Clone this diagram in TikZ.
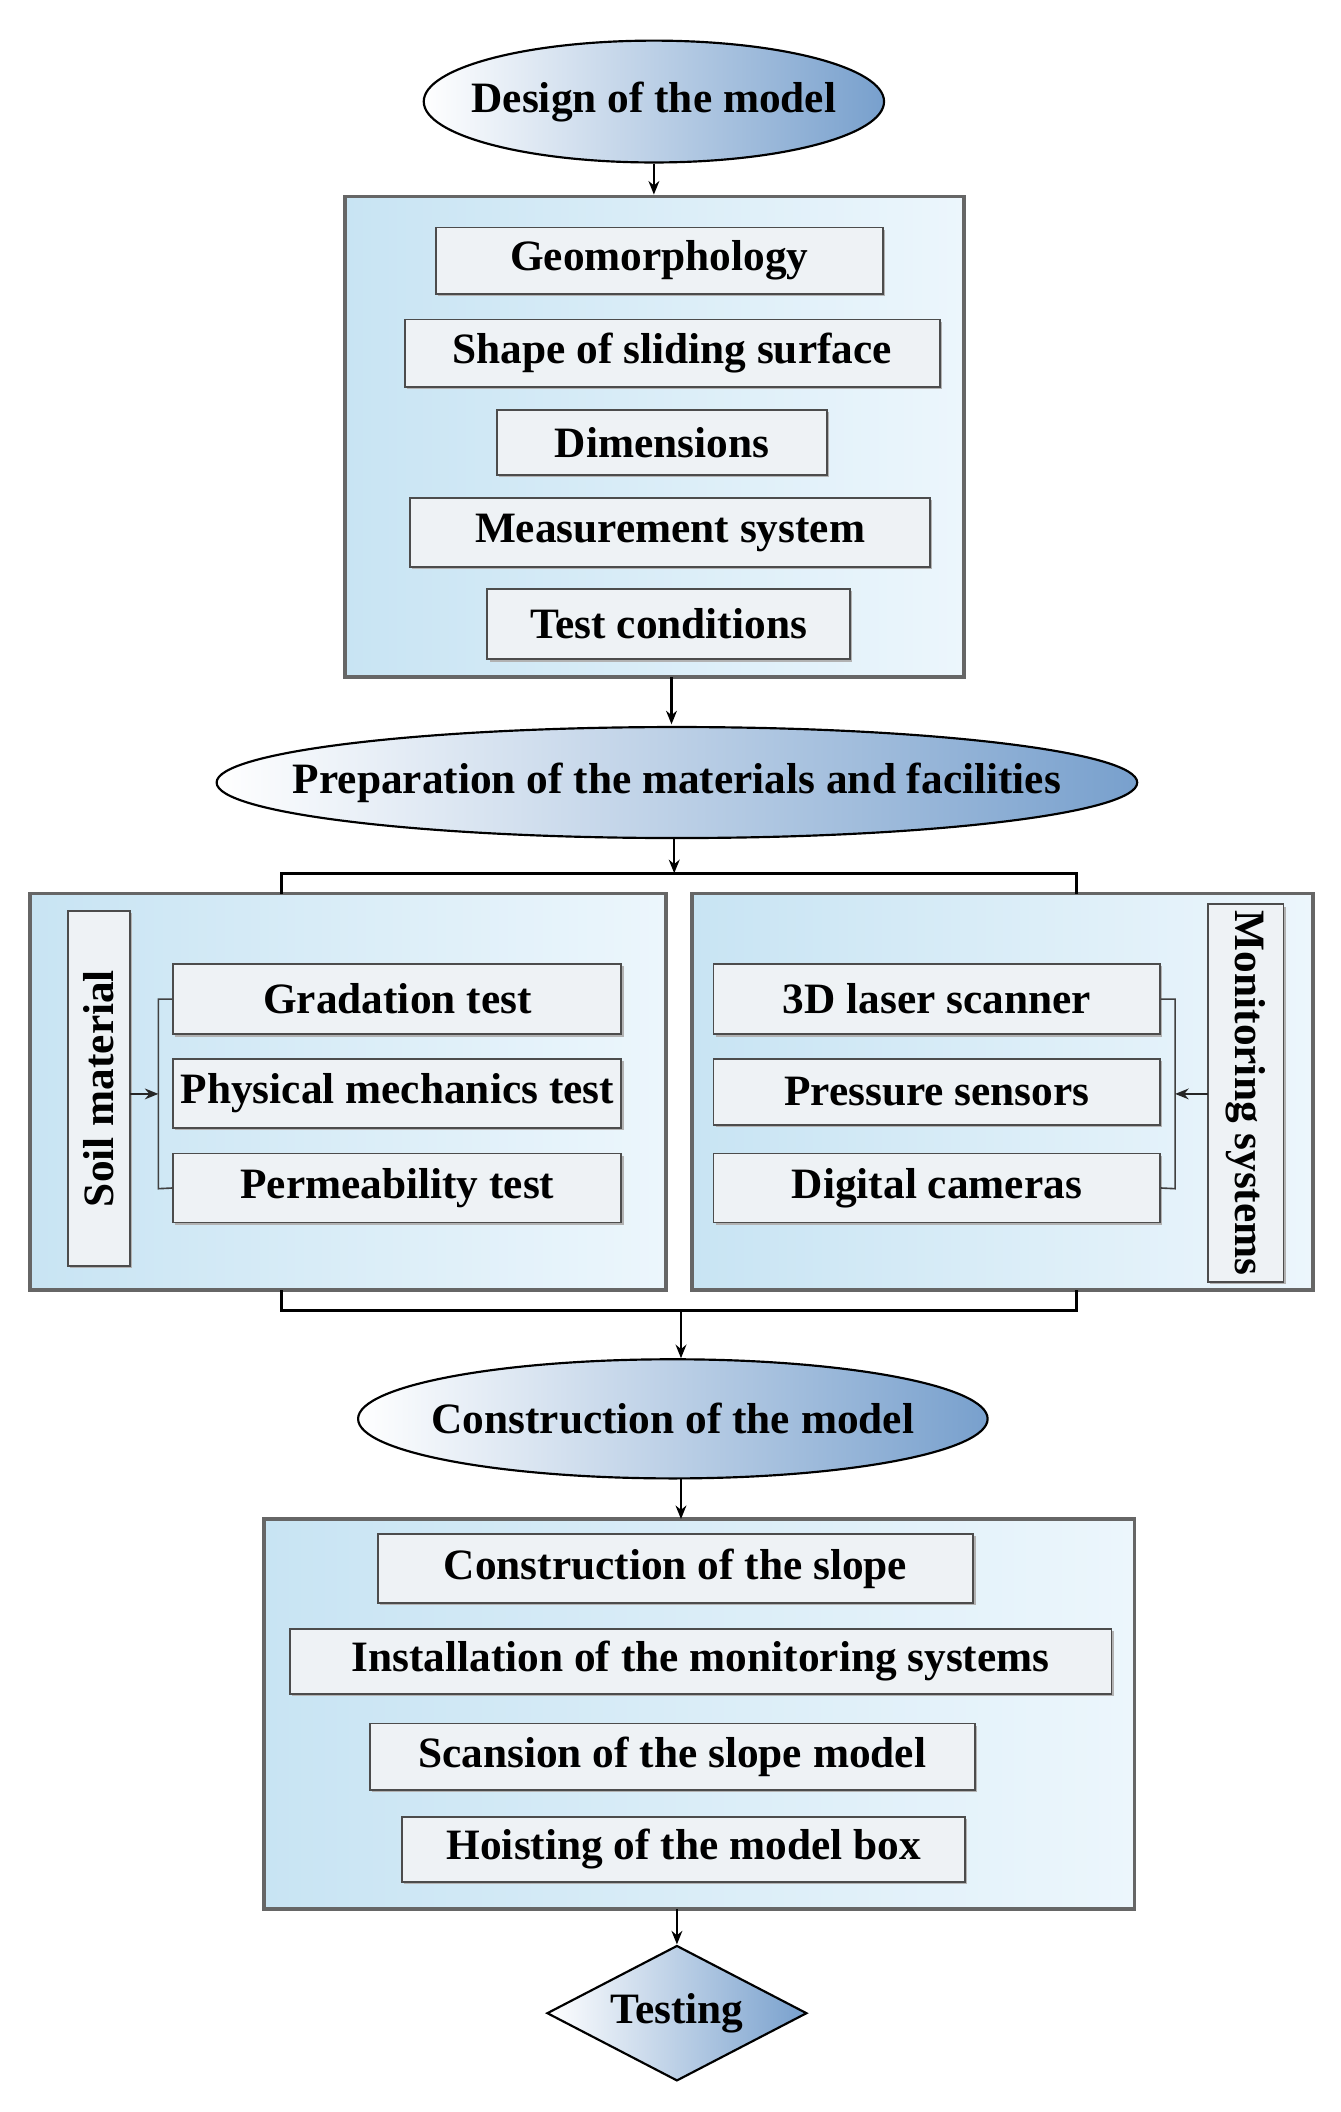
\documentclass[tikz,border=0pt]{standalone}
\usepackage{fontspec}
\setmainfont{Liberation Serif}
\usetikzlibrary{shapes.geometric,shadows,arrows.meta}
\definecolor{bdark}{RGB}{200,228,243}
\definecolor{blight}{RGB}{236,246,252}
\definecolor{eblue}{RGB}{120,160,205}
\definecolor{ifill}{RGB}{238,242,245}
\begin{document}
\begin{tikzpicture}[x=0.5pt,y=-0.5pt,
  sz/.style 2 args={minimum width=#1*0.5pt, minimum height=#2*0.5pt},
  big/.style={draw=gray!80!black, line width=1.3pt, left color=bdark, right color=blight, shading angle=90, inner sep=0pt},
  item/.style={draw=gray!60!black, line width=0.7pt, fill=ifill, inner sep=0pt, font=\bfseries\fontsize{16}{18}\selectfont,
     drop shadow={shadow xshift=0.8pt, shadow yshift=-0.8pt, fill=gray!60, opacity=1}},
  ell/.style={ellipse, draw=black, line width=0.8pt, left color=white, right color=eblue, inner sep=0pt},
  lab/.style={font=\bfseries\fontsize{16}{18}\selectfont, inner sep=0pt},
  arr/.style={-{Stealth[length=5pt,width=4pt]}, line width=0.8pt},
  ln/.style={line width=1.2pt}]
\useasboundingbox[fill=white] (0,0) rectangle (990,1560);

\node[ell, sz={340}{90}] (e1) at (483,75) {};
\node[lab] (e1t) at (e1) {Design of the model};
\node[big, sz={457}{355}] (b1) at (483.5,322.5) {};
\node[item, sz={330}{49}] (i1) at (487,192.5) {Geomorphology};
\node[item, sz={395}{50}] (i2) at (496.5,261) {Shape of sliding surface};
\node[item, sz={244}{48}] (i3) at (489,327) {Dimensions};
\node[item, sz={384}{51}] (i4) at (495,393.5) {Measurement system};
\node[item, sz={268}{52}] (i5) at (494,461) {Test conditions};

\node[ell, sz={680}{82}] (e2) at (500,578) {};
\node[lab] (e2t) at (e2) {Preparation of the materials and facilities};

\node[big, sz={470}{293}] (bl) at (257,806.5) {};
\node[big, sz={459}{293}] (br) at (740.5,806.5) {};
\node[item, sz={262}{46}, rotate=90] (soil) at (73,804) {Soil material};
\node[item, sz={279}{56}, rotate=-90] (mon) at (920,807.5) {Monitoring systems};
\node[item, sz={331}{52}] (s1) at (293.5,738) {Gradation test};
\node[item, sz={331}{51}] (s2) at (293.5,807.5) {Physical mechanics test};
\node[item, sz={331}{51}] (s3) at (293.5,877.5) {Permeability test};
\node[item, sz={330}{52}] (m1) at (692,738) {3D laser scanner};
\node[item, sz={330}{49}] (m2) at (692,806.5) {Pressure sensors};
\node[item, sz={330}{51}] (m3) at (692,877.5) {Digital cameras};

\node[ell, sz={465}{88}] (e3) at (497,1048) {};
\node[lab] (e3t) at (e3) {Construction of the model};
\node[big, sz={643}{288}] (b3) at (516.5,1266) {};
\node[item, sz={440}{51}] (c1) at (499,1158.5) {Construction of the slope};
\node[item, sz={607}{48}] (c2) at (517.5,1227) {Installation of the monitoring systems};
\node[item, sz={447}{49}] (c3) at (496.5,1297.5) {Scansion of the slope model};
\node[item, sz={416}{48}] (c4) at (505,1366) {Hoisting of the model box};

\node[diamond, draw=black, line width=0.8pt, left color=white, right color=eblue, aspect=1.9, sz={192}{100}, inner sep=0pt] (t) at (500,1487) {};
\node[lab] (tt) at (t) {Testing};

% connectors
\draw[arr] (e1.south) -- (e1.south |- b1.north);
\draw[arr] (496,500) -- (496,535);
\coordinate (bt) at (498,645);
\draw[arr] (e2.south -| bt) -- (bt);
\draw[ln] (208,660) -- (208,645) -- (795,645) -- (795,660);
\draw[ln] (208,953) -- (208,968) -- (795,968) -- (795,953);
\coordinate (bb) at (503,968);
\draw[arr] (bb) -- (e3.north -| bb);
\draw[arr] (503,1092) -- (503,1122);
\draw[arr] (500,1410) -- (t.north);

\coordinate (jl) at (117,808);
\coordinate (jr) at (868,808);
\draw[line width=0.6pt, gray!50!black] (s1.west) -- (117,738) -- (117,878) -- (s3.west);
\draw[arr, line width=0.6pt, gray!30!black] (96,808) -- (jl);
\draw[line width=0.6pt, gray!50!black] (m1.east) -- (868,738) -- (868,878) -- (m3.east);
\draw[arr, line width=0.6pt, gray!30!black] (892,808) -- (jr);
\end{tikzpicture}
\end{document}
